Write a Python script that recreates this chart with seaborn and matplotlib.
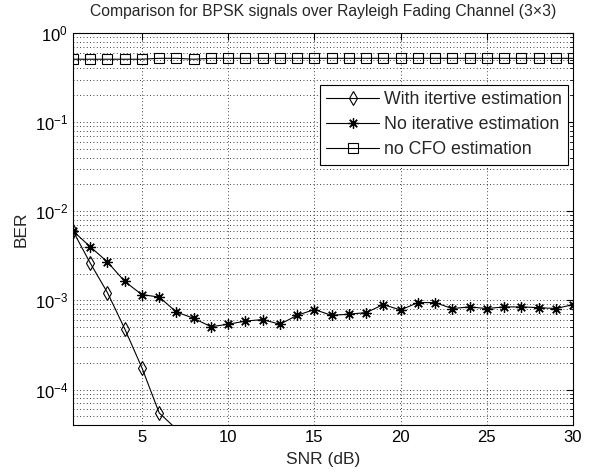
import matplotlib
matplotlib.use("Agg")
import matplotlib.pyplot as plt
import seaborn as sns
import numpy as np
import pandas as pd

snr = list(range(1, 31))

with_iter_snr = [1, 2, 3, 4, 5, 6, 7]
with_iter_ber = [6.0e-3, 2.62e-3, 1.22e-3, 4.8e-4, 1.75e-4, 5.46e-5, 3.6e-5]

no_iter_ber = [6.0e-3, 4.0e-3, 2.7e-3, 1.63e-3, 1.16e-3, 1.09e-3, 7.4e-4, 6.3e-4,
               5.07e-4, 5.4e-4, 5.86e-4, 6.1e-4, 5.4e-4, 6.8e-4, 7.9e-4, 6.8e-4,
               7.0e-4, 7.3e-4, 8.97e-4, 7.8e-4, 9.45e-4, 9.45e-4, 8.1e-4, 8.45e-4,
               8.1e-4, 8.45e-4, 8.45e-4, 8.3e-4, 8.1e-4, 8.97e-4]

no_cfo_ber = [0.508, 0.508, 0.508, 0.508, 0.508, 0.52, 0.52, 0.508, 0.52, 0.52,
              0.52, 0.52, 0.52, 0.52, 0.52, 0.52, 0.52, 0.52, 0.52, 0.52,
              0.52, 0.52, 0.52, 0.52, 0.52, 0.52, 0.52, 0.52, 0.52, 0.52]

labels = ["With itertive estimation", "No iterative estimation", "no CFO estimation"]
title = "Comparison for BPSK signals over Rayleigh Fading Channel (3\u00d73)"

sns.set_style("white")
plt.rcParams["font.family"] = ["Liberation Sans", "DejaVu Sans"]
plt.rcParams["mathtext.fontset"] = "custom"
plt.rcParams["mathtext.rm"] = "Liberation Sans"

fig = plt.figure(figsize=(5.91, 4.75), dpi=100)
ax = fig.add_axes([73/591, 1-425/475, 500/591, 392/475])

sns.lineplot(x=with_iter_snr, y=with_iter_ber, ax=ax, color="k", lw=0.8,
             marker="d", markersize=7, markerfacecolor="none", markeredgecolor="k",
             markeredgewidth=0.8, markevery=list(range(6)), label=labels[0])
sns.lineplot(x=snr, y=no_iter_ber, ax=ax, color="k", lw=0.8,
             marker=(8, 2, 0), markersize=7.5, markeredgecolor="k",
             markeredgewidth=0.9, label=labels[1])
sns.lineplot(x=snr, y=no_cfo_ber, ax=ax, color="k", lw=0.8,
             marker="s", markersize=7, markerfacecolor="none", markeredgecolor="k",
             markeredgewidth=0.8, label=labels[2])

ax.set_yscale("log")
ax.set_xlim(1, 30)
ax.set_ylim(4e-5, 1)
ax.set_xticks([5, 10, 15, 20, 25, 30])
ax.tick_params(which="both", direction="in", top=True, right=True, labelsize=12, colors="k")
ax.tick_params(which="major", length=5)
ax.tick_params(which="minor", length=2.5)
ax.xaxis.set_minor_locator(matplotlib.ticker.NullLocator())
ax.grid(True, which="major", axis="x", linestyle=(0, (1, 3)), color="k", lw=0.6)
ax.grid(True, which="both", axis="y", linestyle=(0, (1, 3)), color="k", lw=0.6)
for s in ax.spines.values():
    s.set_color("k")
    s.set_linewidth(0.8)

ax.set_title(title, fontsize=11.3, pad=12)
ax.set_xlabel("SNR (dB)", fontsize=12.5, labelpad=5)
ax.set_ylabel("BER", fontsize=12.5, labelpad=4)

leg = ax.legend(loc="upper right", bbox_to_anchor=(0.99, 0.867), fontsize=12.8,
                frameon=True, fancybox=False, framealpha=1, edgecolor="k",
                handlelength=3.0, borderaxespad=0, borderpad=0.35, labelspacing=0.45,
                handletextpad=0.25)
leg.get_frame().set_linewidth(0.8)

fig.savefig("out.png", dpi=100)
